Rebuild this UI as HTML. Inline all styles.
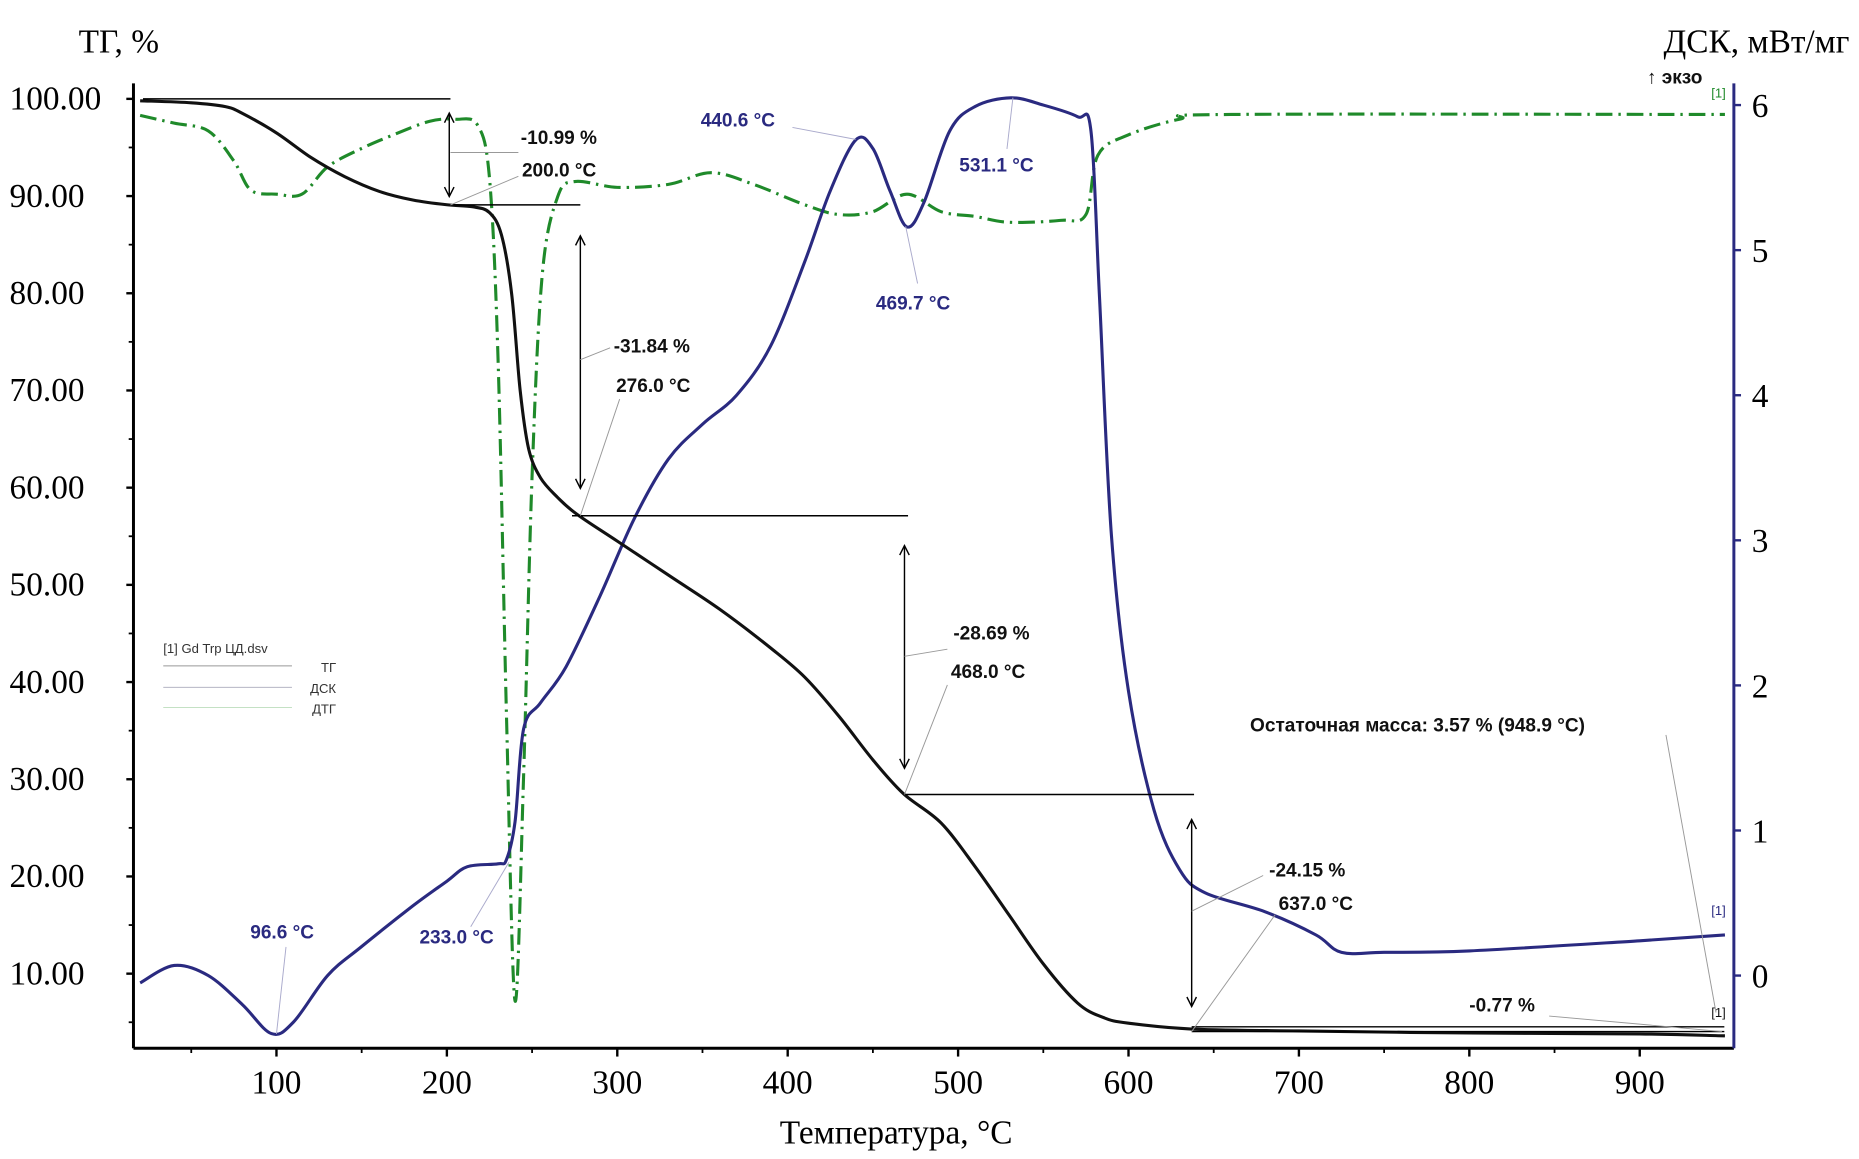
<!DOCTYPE html>
<html><head><meta charset="utf-8"><style>
html,body{margin:0;padding:0;background:#fff;}
svg{display:block;}
.tk{font-family:"Liberation Serif",serif;font-size:28px;fill:#000;}
.an{font-family:"Liberation Sans",sans-serif;font-size:16px;font-weight:bold;fill:#111;}
.ab{font-family:"Liberation Sans",sans-serif;font-size:16px;font-weight:bold;fill:#2a2a80;}
</style></head><body>
<svg id="chart" width="1859" height="1159" viewBox="0 0 1560 973" preserveAspectRatio="none" xmlns="http://www.w3.org/2000/svg">
<g id="axes"></g>
<g id="series"></g>
<g id="annot"></g>
</svg>
<script>
const xTicks=[100,200,300,400,500,600,700,800,900];
const yLeftTicks=[100,90,80,70,60,50,40,30,20,10];
const yRightTicks=[6,5,4,3,2,1,0];
const tgT=[20,50,70,80,100,120,140,160,180,200,215,225,232,238,243,248,255,265,276,300,330,360,390,410,430,450,468,490,510,530,550,570,585,600,637,700,800,900,950];
const tgV=[99.8,99.6,99.2,98.5,96.5,94,92,90.5,89.6,89.1,88.9,88.3,86,80,70,64,61,59,57.3,54.5,51,47.5,43.5,40.5,36.5,32,28.5,25.5,21,16,11,7,5.5,4.9,4.3,4.1,3.9,3.8,3.6];
const dscT=[20,40,60,80,97,110,130,150,180,200,212,230,235,240,245,255,270,290,310,330,350,370,390,410,425,440,450,460,470,480,495,510,531,550,570,578,583,590,600,615,630,645,680,710,725,750,800,900,950];
const dscV=[-0.05,0.07,0,-0.2,-0.4,-0.32,0,0.2,0.48,0.65,0.75,0.77,0.8,1.06,1.7,1.88,2.13,2.62,3.15,3.56,3.8,4.0,4.34,4.92,5.41,5.76,5.7,5.41,5.16,5.33,5.82,5.99,6.05,6.0,5.92,5.82,4.67,3.03,1.96,1.14,0.73,0.57,0.44,0.28,0.16,0.16,0.17,0.24,0.28];
const dtgT=[20,40,60,75,85,100,115,130,150,170,190,205,218,225,230,235,240,245,250,256,265,275,300,330,355,380,410,430,450,470,490,510,530,560,575,582,600,630,660,950];
const dtgV=[98.3,97.5,96.7,93.6,90.6,90.2,90.2,93,94.9,96.4,97.7,97.9,97.3,91.8,73.4,36.6,7.2,30.4,61.2,82,89.9,91.5,90.9,91.2,92.4,91.2,89.1,88.1,88.4,90.2,88.4,87.9,87.3,87.5,88.1,94.2,96.3,97.9,98.4,98.4];

const NS='http://www.w3.org/2000/svg';
const X=t=>232+(t-100)*1.43;
const YL=v=>83+(100-v)*8.16;
const YR=v=>819-v*121.8;
const X0=112,X1=1455,YB=880,YT=70;
function mk(tag,attrs,parent){const e=document.createElementNS(NS,tag);for(const k in attrs)e.setAttribute(k,attrs[k]);parent.appendChild(e);return e;}
const axes=document.getElementById('axes'),series=document.getElementById('series'),annot=document.getElementById('annot');

let e;
e=mk('line',{x1:X0,y1:YT,x2:X0,y2:YB,stroke:'#000','stroke-width':2.5},axes);


e=mk('line',{x1:X0,y1:YB,x2:X1,y2:YB,stroke:'#000','stroke-width':2.5},axes);


e=mk('line',{x1:X1,y1:YT,x2:X1,y2:YB,stroke:'#2a2a80','stroke-width':2.5},axes);



xTicks.forEach(t=>{
 mk('line',{x1:X(t),y1:YB,x2:X(t),y2:YB+7,stroke:'#000','stroke-width':2},axes);
 mk('line',{x1:X(t-50),y1:YB,x2:X(t-50),y2:YB+4,stroke:'#000','stroke-width':1.5},axes);
 const tx=mk('text',{x:X(t),y:YB+38,'text-anchor':'middle',class:'tk'},axes);tx.textContent=t;
 
 
});
yLeftTicks.forEach(v=>{
 mk('line',{x1:X0-6,y1:YL(v),x2:X0,y2:YL(v),stroke:'#000','stroke-width':2},axes);
 mk('line',{x1:X0-4,y1:YL(v-5),x2:X0,y2:YL(v-5),stroke:'#000','stroke-width':1.5},axes);
 const tx=mk('text',{x:8,y:YL(v)+9,class:'tk'},axes);tx.textContent=v.toFixed(2);
 
 
});
yRightTicks.forEach(v=>{
 mk('line',{x1:X1,y1:YR(v),x2:X1+6,y2:YR(v),stroke:'#2a2a80','stroke-width':2},axes);
 const tx=mk('text',{x:1470,y:YR(v)+10,class:'tk'},axes);tx.textContent=v;
 
 
});
function title(x,y,txt,name,anchor,fs){const t=mk('text',{x:x,y:y,class:'tk','text-anchor':anchor||'start'},axes);t.textContent=txt;
 if(fs)t.setAttribute('font-size',fs);
 
 }
title(66,44,'ТГ, %','left-y-axis-title');
title(1552,44,'ДСК, мВт/мг','right-y-axis-title','end','30');
title(752,960,'Температура, °С','x-axis-title','middle','30');
e=mk('text',{x:1382,y:70,class:'an','font-size':'17'},axes);e.textContent='↑ экзо';



function path(T,V,fy,attrs,name){
 const P=T.map((t,i)=>[X(t),fy(V[i])]);
 let d='M'+P[0][0].toFixed(1)+','+P[0][1].toFixed(1);
 for(let i=0;i<P.length-1;i++){
  const p0=P[Math.max(0,i-1)],p1=P[i],p2=P[i+1],p3=P[Math.min(P.length-1,i+2)];
  const k=1/6;
  const c1=[p1[0]+(p2[0]-p0[0])*k,p1[1]+(p2[1]-p0[1])*k];
  const c2=[p2[0]-(p3[0]-p1[0])*k,p2[1]-(p3[1]-p1[1])*k];
  d+='C'+c1[0].toFixed(1)+','+c1[1].toFixed(1)+' '+c2[0].toFixed(1)+','+c2[1].toFixed(1)+' '+p2[0].toFixed(1)+','+p2[1].toFixed(1);
 }
 const p=mk('path',Object.assign({d:d,fill:'none','stroke-linejoin':'round'},attrs),series);
 
 
}
path(dtgT,dtgV,YL,{stroke:'#1f8a2a','stroke-width':2.6,'stroke-dasharray':'14,5,2,5'},'dtg-curve');
path(dscT,dscV,YR,{stroke:'#2a2a80','stroke-width':2.6},'dsc-curve');
path(tgT,tgV,YL,{stroke:'#111','stroke-width':2.6},'tg-curve');

function ln(x1,y1,x2,y2,c,w){return mk('line',{x1:x1,y1:y1,x2:x2,y2:y2,stroke:c||'#000','stroke-width':w||1.2},annot);}
function arrow(x,y1,y2){ln(x,y1,x,y2);mk('path',{d:`M${x-4},${y1+8}L${x},${y1}L${x+4},${y1+8}M${x-4},${y2-8}L${x},${y2}L${x+4},${y2-8}`,fill:'none',stroke:'#000','stroke-width':1.2},annot);}
ln(120,83,378,83);arrow(377,95,165);ln(380,172,487,172);
arrow(487,198,410);ln(480,433,762,433);
arrow(759,458,645);ln(760,667,1002,667);
arrow(1000,688,845);ln(1000,862,1447,862);ln(1000,866,1447,866);
ln(378,128,435,128,'#999',0.8);ln(378,172,435,148,'#999',0.8);
ln(487,302,512,292,'#999',0.8);ln(487,433,520,335,'#999',0.8);
ln(759,551,795,545,'#999',0.8);ln(759,667,795,575,'#999',0.8);
ln(1000,765,1060,735,'#999',0.8);ln(1000,866,1070,768,'#999',0.8);
ln(1300,853,1445,866,'#999',0.8);ln(1398,617,1440,850,'#999',0.8);
ln(232,868,240,795,'#aac',0.8);ln(427,724,395,778,'#aac',0.8);
ln(665,107,718,117,'#aac',0.8);ln(760,190,770,238,'#aac',0.8);ln(850,82,845,125,'#aac',0.8);
function lab(x,y,t,cls,name){const s=mk('text',{x:x,y:y,class:cls},annot);s.textContent=t;
 
 }
lab(437,121,'-10.99 %','an','step1-loss');lab(438,148,'200.0 °C','an','step1-temp');
lab(515,296,'-31.84 %','an','step2-loss');lab(517,329,'276.0 °C','an','step2-temp');
lab(800,537,'-28.69 %','an','step3-loss');lab(798,569,'468.0 °C','an','step3-temp');
lab(1065,736,'-24.15 %','an','step4-loss');lab(1073,764,'637.0 °C','an','step4-temp');
lab(1233,849,'-0.77 %','an','final-loss');
lab(1049,614,'Остаточная масса: 3.57 % (948.9 °C)','an','residual-mass');
lab(588,106,'440.6 °C','ab','dsc-peak-440');lab(805,144,'531.1 °C','ab','dsc-peak-531');
lab(735,260,'469.7 °C','ab','dsc-min-469');lab(210,788,'96.6 °C','ab','dsc-min-96');
lab(352,792,'233.0 °C','ab','dsc-step-233');
e=mk('text',{x:1436,y:82,'font-family':'Liberation Sans,sans-serif','font-size':'11',fill:'#1f8a2a'},annot);e.textContent='[1]';


e=mk('text',{x:1436,y:768,'font-family':'Liberation Sans,sans-serif','font-size':'11',fill:'#2a2a80'},annot);e.textContent='[1]';


e=mk('text',{x:1436,y:854,'font-family':'Liberation Sans,sans-serif','font-size':'11',fill:'#111'},annot);e.textContent='[1]';


const lg=mk('g',{},annot);


const lt=mk('text',{x:137,y:548,'font-family':'Liberation Sans,sans-serif','font-size':'11',fill:'#333'},lg);lt.textContent='[1] Gd Trp ЦД.dsv';
[['ТГ','#999',562],['ДСК','#aab',580],['ДТГ','#bdb',597]].forEach(r=>{
 mk('line',{x1:137,y1:r[2]-3,x2:245,y2:r[2]-3,stroke:r[1],'stroke-width':0.8},lg);
 const t=mk('text',{x:282,y:r[2]+2,'text-anchor':'end','font-family':'Liberation Sans,sans-serif','font-size':'11',fill:'#333'},lg);t.textContent=r[0];
 
 
});
</script>
</body></html>
